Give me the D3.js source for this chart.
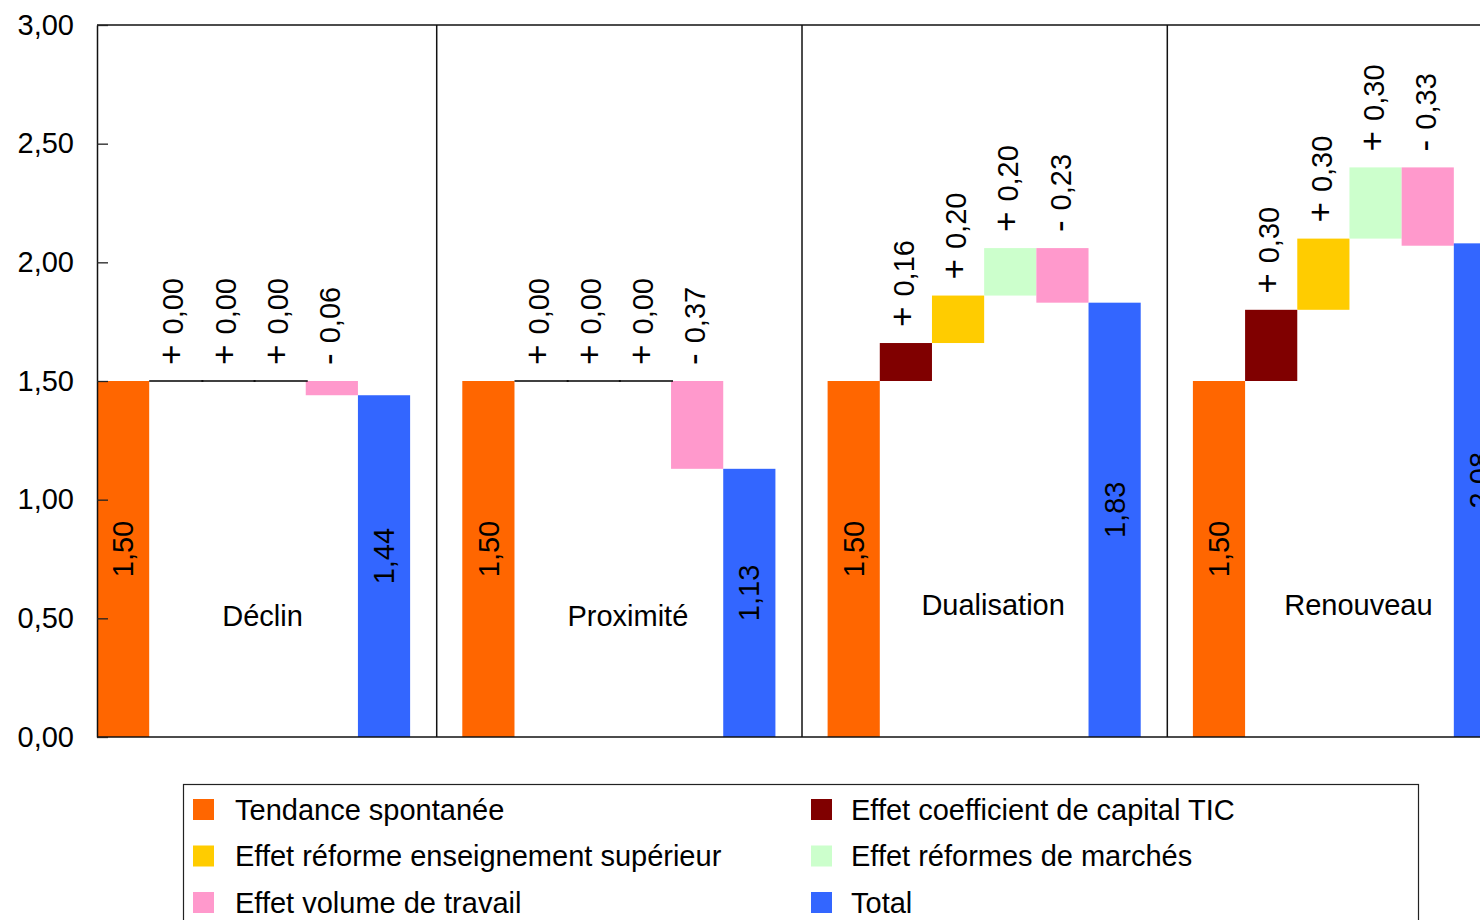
<!DOCTYPE html>
<html>
<head>
<meta charset="utf-8">
<script src="https://cdn.jsdelivr.net/npm/d3@7"></script>
<style>
  html, body { margin: 0; padding: 0; background: #fff; }
  svg { display: block; font-family: "Liberation Sans", Arial, Helvetica, sans-serif; }
  text { fill: #000; }
</style>
</head>
<body>
<svg id="chart" width="1480" height="920"></svg>
<script>
// Scenarios along the horizontal axis
const scenarios = ["Déclin", "Proximité", "Dualisation", "Renouveau"];

// Series (waterfall steps), in drawing order
const seriesNames = [
  "Tendance spontanée",
  "Effet coefficient de capital TIC",
  "Effet réforme enseignement supérieur",
  "Effet réformes de marchés",
  "Effet volume de travail",
  "Total"
];
const seriesColors = ["#FF6600", "#800000", "#FFCC00", "#CCFFCC", "#FF99CC", "#3366FF"];

// Values per scenario
const tendance        = [1.50, 1.50, 1.50, 1.50];
const capitalTIC      = [0.00, 0.00, 0.16, 0.30];
const reformeSup      = [0.00, 0.00, 0.20, 0.30];
const reformesMarches = [0.00, 0.00, 0.20, 0.30];
const volumeTravail   = [-0.06, -0.37, -0.23, -0.33];
const total           = [1.44, 1.13, 1.83, 2.08];

const yTicks = [0, 0.5, 1.0, 1.5, 2.0, 2.5, 3.0];

// ---------------------------------------------------------------
const locale = d3.formatLocale({ decimal: ",", thousands: " ", grouping: [3], currency: ["", " €"] });
const fmt = locale.format(".2f");

const svg = d3.select("#chart");
const FS = 29;

const plot = { left: 97, top: 25, bottom: 737, groupStep: 365.3 };

const y = d3.scaleLinear().domain([0, 3]).range([plot.bottom, plot.top]);

const xGroup = d3.scaleBand()
  .domain(scenarios)
  .range([plot.left, plot.left + plot.groupStep * scenarios.length])
  .paddingInner(0).paddingOuter(0);

// 6 bars + one empty slot separating scenarios
const xSlot = d3.scaleBand()
  .domain(d3.range(7))
  .range([0, xGroup.bandwidth()])
  .padding(0);

// Build the waterfall segments
const steps = [capitalTIC, reformeSup, reformesMarches, volumeTravail];
const segments = [];
scenarios.forEach((sc, i) => {
  segments.push({ sc, s: 0, y0: 0, y1: tendance[i], v: tendance[i], kind: "base" });
  let cum = tendance[i];
  steps.forEach((arr, k) => {
    const v = arr[i];
    segments.push({ sc, s: k + 1, y0: cum, y1: cum + v, v, kind: "step" });
    cum += v;
  });
  segments.push({ sc, s: 5, y0: 0, y1: total[i], v: total[i], kind: "total" });
});

const barX = d => xGroup(d.sc) + xSlot(d.s);
const barW = xSlot.bandwidth();

// Bars
svg.append("g").selectAll("rect")
  .data(segments.filter(d => d.v !== 0))
  .join("rect")
  .attr("x", d => barX(d))
  .attr("width", barW)
  .attr("y", d => y(Math.max(d.y0, d.y1)))
  .attr("height", d => Math.abs(y(d.y0) - y(d.y1)))
  .attr("fill", d => seriesColors[d.s]);

// Zero-valued steps drawn as a flat line
svg.append("g").selectAll("line")
  .data(segments.filter(d => d.v === 0))
  .join("line")
  .attr("x1", d => barX(d))
  .attr("x2", d => barX(d) + barW + 2)
  .attr("y1", d => y(d.y0))
  .attr("y2", d => y(d.y0))
  .attr("stroke", "#000")
  .attr("stroke-width", 1.6);

// Frame: top edge, bottom edge, scenario separators
const frame = svg.append("g").attr("stroke", "#111").attr("stroke-width", 1.5);
frame.append("line").attr("x1", plot.left).attr("x2", 1480).attr("y1", plot.top).attr("y2", plot.top);
frame.append("line").attr("x1", plot.left).attr("x2", 1480).attr("y1", plot.bottom).attr("y2", plot.bottom);
frame.selectAll("line.sep")
  .data(scenarios.slice(1))
  .join("line")
  .attr("class", "sep")
  .attr("x1", d => xGroup(d) - barW / 2 + 0.5)
  .attr("x2", d => xGroup(d) - barW / 2 + 0.5)
  .attr("y1", plot.top)
  .attr("y2", plot.bottom);

// Values inside base and total bars
svg.append("g").selectAll("text")
  .data(segments.filter(d => d.kind !== "step"))
  .join("text")
  .attr("transform", d => `translate(${barX(d) + barW / 2},${(y(d.y0) + y(d.y1)) / 2 - 10}) rotate(-90)`)
  .attr("text-anchor", "middle")
  .attr("dy", "0.35em")
  .attr("font-size", FS)
  .text(d => fmt(d.v));

// Signed values above each step
const stepLabels = svg.append("g").selectAll("text")
  .data(segments.filter(d => d.kind === "step"))
  .join("text")
  .attr("transform", d => `translate(${barX(d) + barW / 2 - 2},${y(Math.max(d.y0, d.y1)) - 16}) rotate(-90)`)
  .attr("text-anchor", "start")
  .attr("dy", "0.35em")
  .attr("font-size", FS);
stepLabels.append("tspan")
  .attr("font-size", 35)
  .text(d => d.v < 0 ? "-" : "+");
stepLabels.append("tspan")
  .attr("dx", 2)
  .text(d => " " + fmt(Math.abs(d.v)));

// Scenario names
const labelLift = [0.51, 0.51, 0.555, 0.555];
svg.append("g").selectAll("text")
  .data(scenarios)
  .join("text")
  .attr("x", d => xGroup(d) + xSlot(3) + 9)
  .attr("y", (d, i) => y(labelLift[i]))
  .attr("dy", "0.35em")
  .attr("text-anchor", "middle")
  .attr("font-size", FS)
  .text(d => d);

// Left axis, ticks pointing into the plot
const yAxis = d3.axisLeft(y)
  .tickValues(yTicks)
  .tickFormat(fmt)
  .tickSizeInner(-11)
  .tickSizeOuter(0)
  .tickPadding(23);
const ax = svg.append("g")
  .attr("transform", `translate(${plot.left},0)`)
  .call(yAxis);
ax.select(".domain").attr("stroke", "#111").attr("stroke-width", 1.5);
ax.selectAll(".tick line").attr("stroke", "#222").attr("stroke-width", 1.3);
ax.selectAll(".tick text")
  .attr("font-size", FS)
  .attr("font-family", "Liberation Sans, Arial, sans-serif")
  .attr("fill", "#000");

// Legend
const legend = svg.append("g");
legend.append("rect")
  .attr("x", 183.5).attr("y", 784.5)
  .attr("width", 1235).attr("height", 160)
  .attr("fill", "#fff")
  .attr("stroke", "#222")
  .attr("stroke-width", 1.2);

const legCol = d3.scaleOrdinal().domain([0, 1]).range([193, 811]);
const legRow = d3.scaleLinear().domain([0, 2]).range([809.5, 902.5]);

const items = legend.selectAll("g.item")
  .data(seriesNames)
  .join("g")
  .attr("class", "item")
  .attr("transform", (d, i) => `translate(${legCol(i % 2)},${legRow(Math.floor(i / 2))})`);
items.append("rect")
  .attr("x", 0).attr("y", -10.5)
  .attr("width", 21).attr("height", 21)
  .attr("fill", (d, i) => seriesColors[i]);
items.append("text")
  .attr("x", (d, i) => i % 2 === 0 ? 42 : 40)
  .attr("dy", "0.35em")
  .attr("font-size", FS)
  .text(d => d);
</script>
</body>
</html>
